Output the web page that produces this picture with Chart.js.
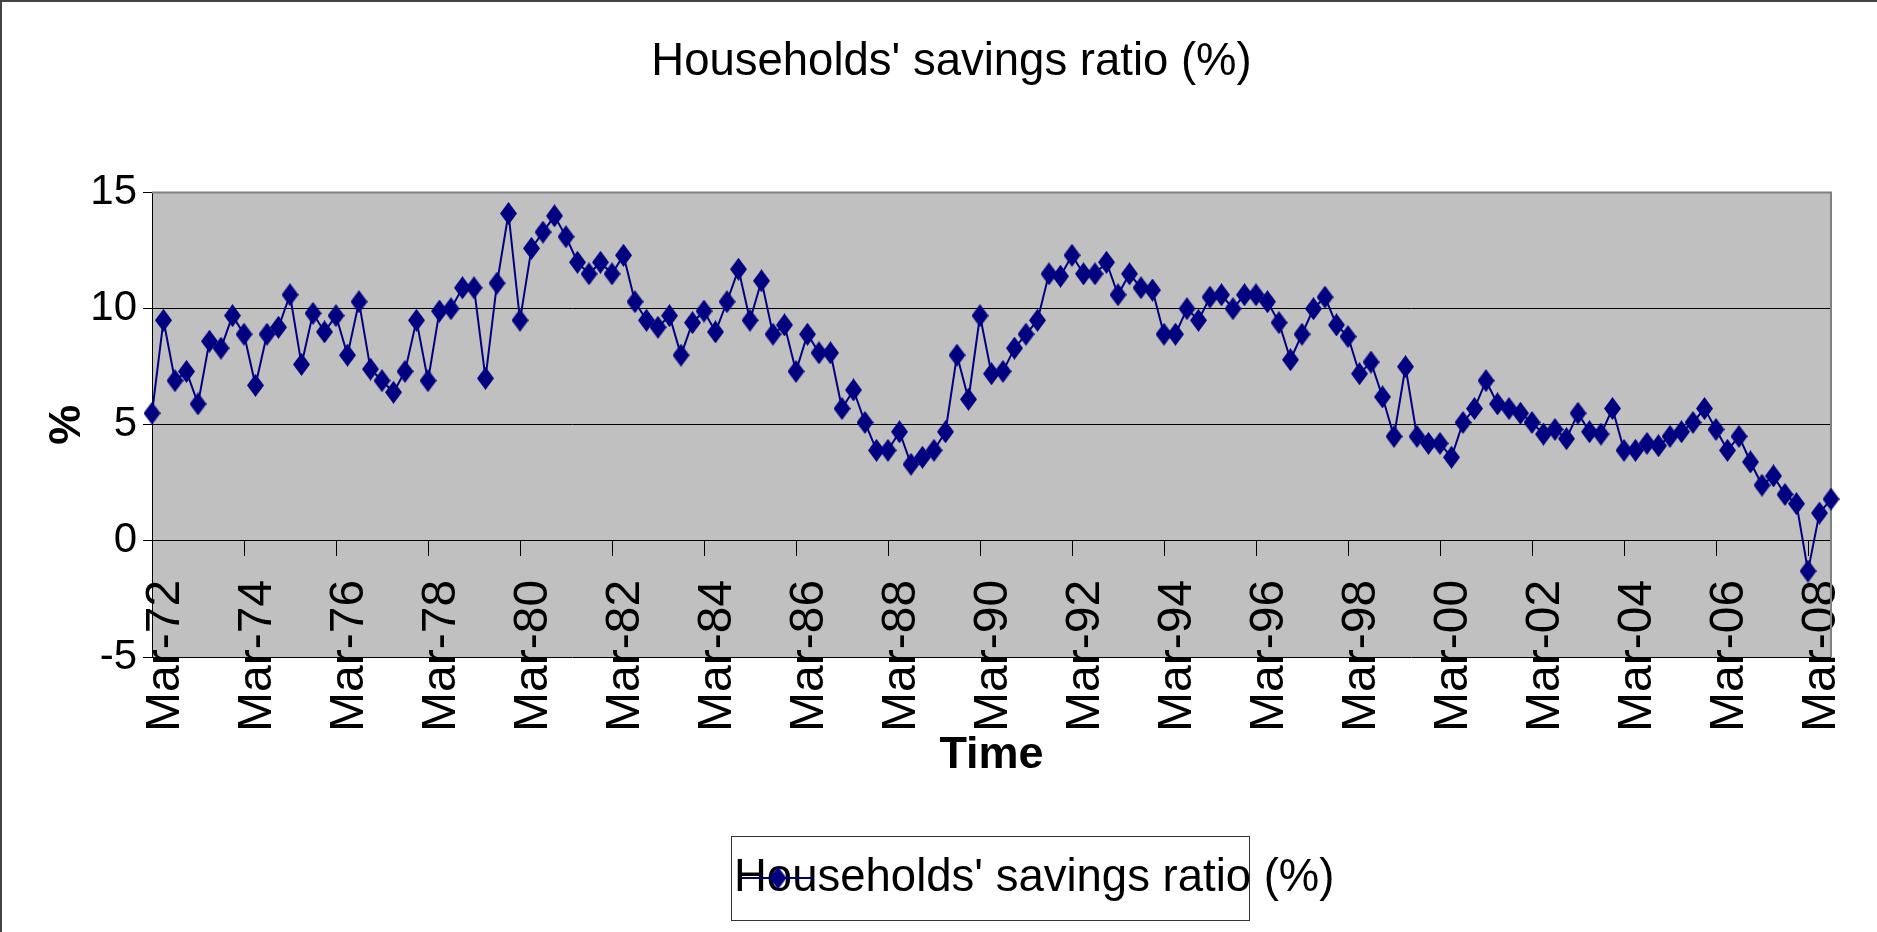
<!DOCTYPE html>
<html>
<head>
<meta charset="utf-8">
<title>Households' savings ratio (%)</title>
<script src="https://cdn.jsdelivr.net/npm/chart.js@4.4.1/dist/chart.umd.min.js"></script>
<style>
  html, body { margin: 0; padding: 0; background: #fff; }
  #wrap { position: relative; width: 1877px; height: 932px; }
  #frame {
    position: absolute; left: 0; top: 0; right: 0; bottom: 0;
    border-left: 2px solid #444; border-top: 2px solid #444;
    pointer-events: none;
  }
</style>
</head>
<body>
<div id="wrap">
  <canvas id="savingsChart" width="1877" height="932"></canvas>
  <div id="frame"></div>
</div>
<script>
/* quarters Mar-72 .. Sep-08 */
const quarterMonths = ["Mar", "Jun", "Sep", "Dec"];
const categories = [];
for (let year = 1972; year <= 2008; year++) {
  for (const m of quarterMonths) {
    if (year === 2008 && m === "Dec") break;
    categories.push(m + "-" + String(year).slice(2));
  }
}

const tickLabels = ["Mar-72", "Mar-74", "Mar-76", "Mar-78", "Mar-80", "Mar-82", "Mar-84",
  "Mar-86", "Mar-88", "Mar-90", "Mar-92", "Mar-94", "Mar-96", "Mar-98", "Mar-00",
  "Mar-02", "Mar-04", "Mar-06", "Mar-08"];

const yTicks = [-5, 0, 5, 10, 15];

/* savings ratio */
const savingsRatio = [
  5.5, 9.5, 6.9, 7.3, 5.9, 8.6, 8.3, 9.7, 8.9, 6.7, 8.9, 9.2,       // 72-74
  10.6, 7.6, 9.8, 9.0, 9.7, 8.0, 10.3, 7.4, 6.9, 6.4, 7.3, 9.5,     // 75-77
  6.9, 9.9, 10.0, 10.9, 10.9, 7.0, 11.1, 14.1, 9.5, 12.6, 13.3, 14.0, // 78-80
  13.1, 12.0, 11.5, 12.0, 11.5, 12.3, 10.3, 9.5, 9.2, 9.7, 8.0, 9.4,  // 81-83
  9.9, 9.0, 10.3, 11.7, 9.5, 11.2, 8.9, 9.3, 7.3, 8.9, 8.1, 8.1,      // 84-86
  5.7, 6.5, 5.1, 3.9, 3.9, 4.7, 3.3, 3.6, 3.9, 4.7, 8.0, 6.1,         // 87-89
  9.7, 7.2, 7.3, 8.3, 8.9, 9.5, 11.5, 11.4, 12.3, 11.5, 11.5, 12.0,   // 90-92
  10.6, 11.5, 10.9, 10.8, 8.9, 8.9, 10.0, 9.5, 10.5, 10.6, 10.0, 10.6, // 93-95
  10.6, 10.3, 9.4, 7.8, 8.9, 10.0, 10.5, 9.3, 8.8, 7.2, 7.7, 6.2,     // 96-98
  4.5, 7.5, 4.5, 4.2, 4.2, 3.6, 5.1, 5.7, 6.9, 5.9, 5.7, 5.5,         // 99-01
  5.1, 4.6, 4.8, 4.4, 5.5, 4.7, 4.6, 5.7, 3.9, 3.9, 4.2, 4.1,         // 02-04
  4.5, 4.7, 5.1, 5.7, 4.8, 3.9, 4.5, 3.4, 2.4, 2.8, 2.0, 1.6,         // 05-07
  -1.3, 1.2, 1.8                                                      // 08
];

const FONT = "'Liberation Sans', Arial, Helvetica, sans-serif";
const NAVY = "#000080";

/* tall diamond marker like the spreadsheet one */
function makeDiamond(w, h, color) {
  const c = document.createElement("canvas");
  c.width = w;
  c.height = h;
  const g = c.getContext("2d");
  g.fillStyle = color;
  g.beginPath();
  g.moveTo(w / 2, 0);
  g.lineTo(w, h / 2);
  g.lineTo(w / 2, h);
  g.lineTo(0, h / 2);
  g.closePath();
  g.fill();
  return c;
}
const diamond = makeDiamond(17, 23, NAVY);

/* grey plot area with a frame on top and right */
const plotBackground = {
  id: "plotBackground",
  beforeDraw(chart) {
    const { ctx, chartArea: a } = chart;
    ctx.save();
    ctx.fillStyle = "#c0c0c0";
    ctx.fillRect(a.left, a.top, a.right - a.left, a.bottom - a.top);
    ctx.restore();
  },
  beforeDatasetsDraw(chart) {
    const { ctx, chartArea: a } = chart;
    ctx.save();
    ctx.strokeStyle = "#808080";
    ctx.lineWidth = 2;
    ctx.beginPath();
    ctx.moveTo(a.left, a.top);
    ctx.lineTo(a.right, a.top);
    ctx.lineTo(a.right, a.bottom);
    ctx.stroke();
    ctx.restore();
  }
};

/* boxed legend below the axis title, symbol drawn over the text */
const boxedLegend = {
  id: "boxedLegend",
  afterDraw(chart) {
    const { ctx } = chart;
    const left = 731, top = 836, w = 518, h = 84;
    const midY = top + h / 2;
    ctx.save();
    ctx.strokeStyle = "#333";
    ctx.lineWidth = 1;
    ctx.strokeRect(left + 0.5, top + 0.5, w, h);
    ctx.fillStyle = "#000";
    ctx.font = "45.5px " + FONT;
    ctx.textBaseline = "middle";
    ctx.fillText(chart.data.datasets[0].label, left + 3, midY);
    ctx.strokeStyle = NAVY;
    ctx.lineWidth = 2;
    ctx.beginPath();
    ctx.moveTo(left + 11, midY);
    ctx.lineTo(left + 83, midY);
    ctx.stroke();
    ctx.drawImage(diamond, left + 47 - diamond.width / 2, midY - diamond.height / 2);
    ctx.restore();
  }
};

const ctx = document.getElementById("savingsChart").getContext("2d");

new Chart(ctx, {
  type: "line",
  data: {
    labels: categories,
    datasets: [
      {
        label: "Households' savings ratio (%)",
        data: savingsRatio,
        yAxisID: "y",
        borderColor: NAVY,
        backgroundColor: NAVY,
        borderWidth: 2,
        tension: 0,
        fill: false,
        pointStyle: diamond,
        pointRadius: 9,
        clip: false,
      },
    ],
  },
  options: {
    responsive: false,
    animation: false,
    devicePixelRatio: 1,
    layout: { padding: { left: 26, right: 0, top: 0, bottom: 275 } },
    plugins: {
      title: {
        display: true,
        text: "Households' savings ratio (%)",
        color: "#000",
        font: { family: FONT, size: 45.5, weight: "normal" },
        padding: { top: 35, bottom: 103 },
      },
      legend: { display: false },
      tooltip: { enabled: false },
    },
    scales: {
      x: {
        type: "category",
        position: { y: 0 },
        offset: false,
        afterBuildTicks: (axis) => {
          axis.ticks = axis.ticks.filter((t) => tickLabels.includes(categories[t.value]));
        },
        afterFit: (axis) => {
          axis.height = 278;
          axis.paddingLeft = 0;
          axis.paddingRight = 0;
        },
        grid: { drawOnChartArea: false, drawTicks: true, tickLength: 15, color: "#000", lineWidth: 1 },
        border: { display: true, color: "#000", width: 1 },
        ticks: {
          autoSkip: false,
          minRotation: 90,
          maxRotation: 90,
          padding: 24,
          labelOffset: 14,
          color: "#000",
          font: { family: FONT, size: 48 },
        },
        title: {
          display: true,
          text: "Time",
          color: "#000",
          font: { family: FONT, size: 45, weight: "bold" },
          padding: { top: 0, bottom: 36 },
        },
      },
      y: {
        min: yTicks[0],
        max: yTicks[yTicks.length - 1],
        afterBuildTicks: (axis) => {
          axis.ticks = yTicks.map((v) => ({ value: v }));
        },
        afterFit: (axis) => {
          axis.width = 126;
          axis.paddingTop = 0;
          axis.paddingBottom = 0;
        },
        grid: { color: "#000", lineWidth: 1, tickLength: 9 },
        border: { color: "#000", width: 1 },
        ticks: { padding: 6, color: "#000", font: { family: FONT, size: 42 } },
        title: {
          display: true,
          text: "%",
          color: "#000",
          font: { family: FONT, size: 45, weight: "bold" },
          padding: { top: 15, bottom: 0 },
        },
      },
      /* empty right-hand margin, keeps the title centred as in the picture */
      yRight: {
        position: "right",
        display: true,
        grid: { display: false },
        border: { display: false },
        ticks: { display: false },
        afterFit: (axis) => {
          axis.width = 46;
        },
      },
    },
  },
  plugins: [plotBackground, boxedLegend],
});
</script>
</body>
</html>
